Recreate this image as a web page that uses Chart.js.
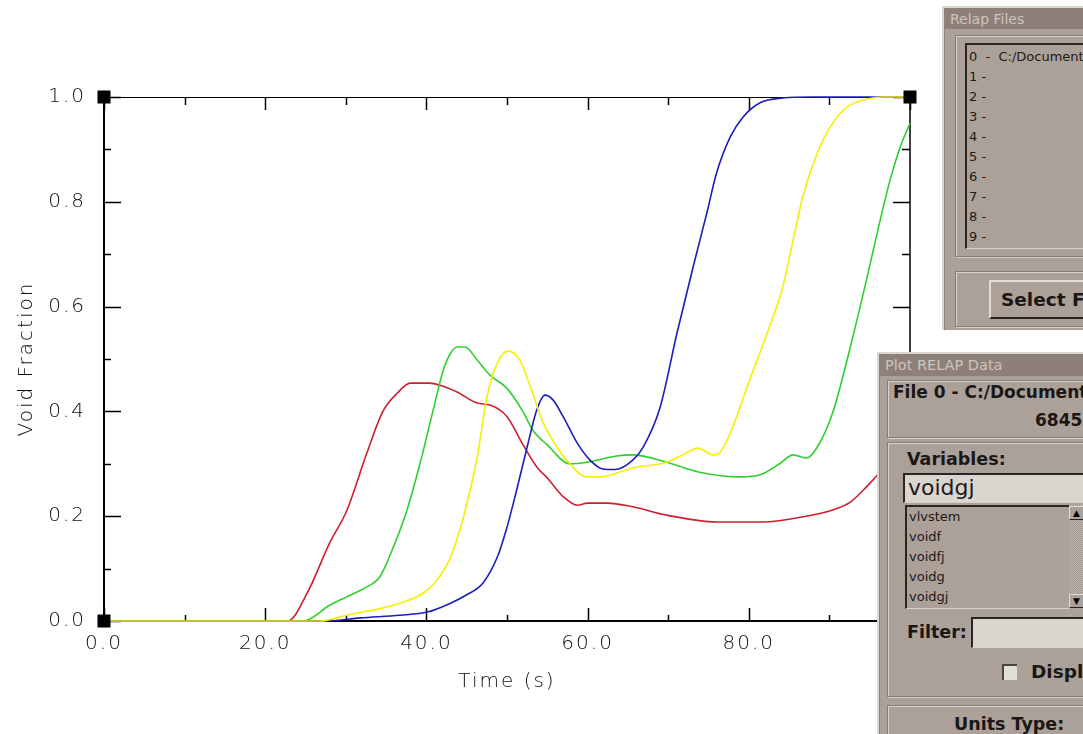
<!DOCTYPE html>
<html>
<head>
<meta charset="utf-8">
<script src="https://cdn.jsdelivr.net/npm/chart.js@4.4.1/dist/chart.umd.min.js"></script>
<style>
  html, body { margin: 0; padding: 0; background: #fff; }
  body { position: relative; width: 1083px; height: 734px; overflow: hidden; font-family: "DejaVu Sans", Verdana, sans-serif; }
  #plot { position: absolute; left: 0; top: 0; display: block; }
  .abs { position: absolute; box-sizing: border-box; white-space: nowrap; }
  .win { background: #aba198; border-left: 2px solid #ddd6cf; border-top: 2px solid #ddd6cf; box-shadow: inset 1px 1px 0 #8c827a; }
  .title { background: #8d807a; color: #cdc4bc; font-size: 14px; line-height: 20px; padding-left: 5px; }
  .frame { border: 1px solid #867c74; box-shadow: 1px 1px 0 #d9d2cb, inset 1px 1px 0 #d9d2cb; }
  .sunk { border-top: 2px solid #2a2624; border-left: 2px solid #2a2624; border-bottom: 1px solid #d8d1ca; }
  .item { font-size: 13px; color: #1d1a18; line-height: 20px; }
  .bold { font-weight: bold; color: #1a1716; }
  .field { background: #dbd5cf; }
</style>
</head>
<body>
<canvas id="plot" width="1083" height="734"></canvas>

<!-- Relap Files window -->
<div class="abs win" style="left:942px;top:6px;width:160px;height:324px;"></div>
<div class="abs title" style="left:945px;top:9px;width:150px;height:20px;">Relap Files</div>
<div class="abs frame" style="left:955px;top:35px;width:140px;height:222px;"></div>
<div class="abs sunk" style="left:965px;top:43px;width:130px;height:206px;"></div>
<div id="fileList" class="abs" style="left:969px;top:47px;"></div>
<div class="abs frame" style="left:955px;top:271px;width:140px;height:56px;"></div>
<div class="abs bold" style="left:989px;top:280px;width:120px;height:39px;border-top:2px solid #e2dcd6;border-left:2px solid #e2dcd6;border-bottom:2px solid #2a2220;font-size:18.5px;line-height:35px;padding-left:10px;">Select File</div>

<!-- Plot RELAP Data window -->
<div class="abs win" style="left:877px;top:352px;width:220px;height:400px;"></div>
<div class="abs title" style="left:880px;top:355px;width:210px;height:21px;line-height:21px;font-size:14.5px;">Plot RELAP Data</div>
<div class="abs frame" style="left:887px;top:380px;width:210px;height:58px;"></div>
<div class="abs bold" style="left:893px;top:382px;font-size:17px;line-height:21px;">File 0 - C:/Documents and Settings</div>
<div class="abs bold" style="left:1035px;top:410px;font-size:17px;line-height:21px;">6845</div>
<div class="abs frame" style="left:887px;top:442px;width:210px;height:255px;"></div>
<div class="abs bold" style="left:907px;top:448px;font-size:17.5px;line-height:22px;">Variables:</div>
<div class="abs sunk field" style="left:903px;top:473px;width:190px;height:30px;font-size:22px;line-height:26px;padding-left:3px;color:#1d1a18;">voidgj</div>
<div class="abs sunk" style="left:905px;top:505px;width:164px;height:104px;"></div>
<div id="varList" class="abs" style="left:909px;top:507px;"></div>
<div class="abs" style="left:1069px;top:505px;width:20px;height:104px;background:repeating-conic-gradient(#bdb5ad 0 25%, #a39990 0 50%) 0 0/2px 2px;"></div>
<div class="abs" style="left:1069px;top:506px;width:20px;height:14px;background:#aba198;border-top:1px solid #e2dcd6;border-left:1px solid #e2dcd6;border-bottom:1px solid #2a2220;font-size:9px;line-height:12px;padding-left:3px;">&#9650;</div>
<div class="abs" style="left:1069px;top:594px;width:20px;height:14px;background:#aba198;border-top:1px solid #e2dcd6;border-left:1px solid #e2dcd6;border-bottom:1px solid #2a2220;font-size:9px;line-height:12px;padding-left:3px;">&#9660;</div>
<div class="abs bold" style="left:907px;top:621px;font-size:17.5px;line-height:22px;">Filter:</div>
<div class="abs sunk field" style="left:971px;top:617px;width:120px;height:31px;"></div>
<div class="abs" style="left:1002px;top:664px;width:15px;height:16px;background:#e2deda;border-top:2px solid #4a4440;border-left:2px solid #4a4440;"></div>
<div class="abs bold" style="left:1031px;top:661px;font-size:18.5px;line-height:22px;">Display</div>
<div class="abs frame" style="left:887px;top:705px;width:210px;height:60px;"></div>
<div class="abs bold" style="left:954px;top:713px;font-size:17.5px;line-height:22px;">Units Type:</div>

<script>
// time in s, void fraction, one pair of arrays per curve
const redT = [0, 22.8, 25.2, 28, 30.1, 32.6, 34.6, 36.4, 38, 40.4, 41.7, 43.8, 46.3, 47.9, 50, 52, 53.7, 55, 57, 58.7, 60, 62.4, 65.6, 69.8, 76, 81.8, 86.4, 90.4, 92.6, 94.6, 96, 98, 100];
const redV = [0, 0, 0.053, 0.149, 0.21, 0.32, 0.40, 0.435, 0.454, 0.454, 0.45, 0.437, 0.416, 0.412, 0.39, 0.336, 0.294, 0.273, 0.237, 0.221, 0.225, 0.225, 0.218, 0.202, 0.189, 0.189, 0.198, 0.212, 0.227, 0.256, 0.279, 0.31, 0.34];

const greenT = [0, 24.7, 28, 30.1, 32.6, 34.2, 35.9, 37.6, 39.2, 40.8, 42.1, 43, 43.8, 44.8, 46.3, 47.9, 50, 52, 53.2, 55, 57.8, 59.9, 63.6, 65.6, 69.8, 73.9, 78.9, 81.4, 83.9, 85.5, 87.2, 88.5, 90.4, 92.6, 94.6, 96.3, 97.5, 98.8, 100];
const greenV = [0, 0, 0.03, 0.046, 0.065, 0.084, 0.141, 0.212, 0.30, 0.40, 0.479, 0.511, 0.523, 0.523, 0.498, 0.469, 0.444, 0.399, 0.364, 0.336, 0.30, 0.303, 0.315, 0.317, 0.303, 0.284, 0.275, 0.279, 0.301, 0.317, 0.311, 0.332, 0.397, 0.523, 0.651, 0.765, 0.84, 0.905, 0.95];

const blueT = [0, 27.7, 31.8, 36.7, 40.1, 43, 45, 47, 48.8, 50, 51.2, 52.5, 53.7, 54.7, 55.7, 57, 58.7, 60.3, 61.9, 63.4, 65.6, 66.9, 69, 71.1, 73.1, 74.8, 76, 77.7, 79.3, 81.4, 84.2, 88, 100];
const blueV = [0, 0, 0.006, 0.011, 0.017, 0.034, 0.05, 0.072, 0.122, 0.179, 0.25, 0.332, 0.403, 0.431, 0.422, 0.389, 0.34, 0.307, 0.29, 0.289, 0.307, 0.332, 0.408, 0.55, 0.676, 0.779, 0.855, 0.924, 0.962, 0.989, 0.998, 1.0, 1.0];

const yellowT = [0, 26.8, 30.1, 34.6, 37.1, 39.6, 41.3, 43, 44.6, 46.3, 47.5, 48.8, 50.1, 51.6, 52.9, 54.5, 56.2, 57.4, 59.9, 61.5, 65.6, 69.8, 71.8, 73.7, 75.6, 76.4, 78, 80.1, 82.3, 84.2, 85.5, 86.7, 88.5, 90.1, 92.2, 94.7, 96.7, 100];
const yellowV = [0, 0, 0.011, 0.025, 0.036, 0.053, 0.078, 0.122, 0.198, 0.313, 0.427, 0.492, 0.515, 0.498, 0.447, 0.378, 0.332, 0.307, 0.275, 0.275, 0.292, 0.303, 0.317, 0.33, 0.317, 0.321, 0.37, 0.46, 0.55, 0.637, 0.727, 0.81, 0.893, 0.943, 0.981, 0.996, 1.0, 1.0];

const xMajor = [0, 20, 40, 60, 80, 100];
const xMinor = [10, 30, 50, 70, 90];
const yMajor = [0, 0.2, 0.4, 0.6, 0.8, 1.0];
const yMinor = [0.1, 0.3, 0.5, 0.7, 0.9];

const fileItems = ['0  -  C:/Documents and Settings', '1 -', '2 -', '3 -', '4 -', '5 -', '6 -', '7 -', '8 -', '9 -'];
const varItems = ['vlvstem', 'voidf', 'voidfj', 'voidg', 'voidgj'];

document.getElementById('fileList').innerHTML = fileItems.map((s) => `<div class="item">${s.replace(/ /g, '&nbsp;')}</div>`).join('');
document.getElementById('varList').innerHTML = varItems.map((s) => `<div class="item">${s}</div>`).join('');

function pts(t, v) {
  return t.map((x, i) => ({ x, y: v[i] }));
}

const axisFont = { family: 'DejaVu Sans', size: 20, weight: 300 };
const textColor = '#111';

// inward tick marks, top/right frame and the corner squares
const frameTicks = {
  id: 'frameTicks',
  beforeDraw(chart) {
    chart.ctx.letterSpacing = '2px';
  },
  beforeDatasetsDraw(chart) {
    const { ctx, chartArea: a, scales: { x, y } } = chart;
    ctx.save();
    ctx.strokeStyle = '#000';
    ctx.lineWidth = 1;
    ctx.beginPath();
    ctx.moveTo(a.left, a.top + 0.5);
    ctx.lineTo(a.right, a.top + 0.5);
    ctx.stroke();
    ctx.lineWidth = 1.5;
    ctx.beginPath();
    ctx.moveTo(a.right, a.top);
    ctx.lineTo(a.right, a.bottom);
    ctx.stroke();

    ctx.beginPath();
    const xt = (vals, bot, top) => vals.forEach((v) => {
      const px = Math.round(x.getPixelForValue(v)) + 0.5;
      ctx.moveTo(px, a.bottom); ctx.lineTo(px, a.bottom - bot);
      ctx.moveTo(px, a.top); ctx.lineTo(px, a.top + top);
    });
    const yt = (vals, left, right) => vals.forEach((v) => {
      const py = Math.round(y.getPixelForValue(v)) + 0.5;
      ctx.moveTo(a.left, py); ctx.lineTo(a.left + left, py);
      ctx.moveTo(a.right, py); ctx.lineTo(a.right - right, py);
    });
    xt(xMajor, 13, 13);
    xt(xMinor, 6, 8);
    yt(yMajor, 17, 17);
    yt(yMinor, 7, 8);
    ctx.stroke();
    ctx.restore();
  },
  afterDatasetsDraw(chart) {
    const { ctx, scales: { x, y } } = chart;
    ctx.save();
    ctx.fillStyle = '#000';
    [[0, 0], [0, 1], [100, 1], [100, 0]].forEach(([tx, vy]) => {
      const px = x.getPixelForValue(tx);
      const py = y.getPixelForValue(vy);
      ctx.fillRect(px - 6.5, py - 6.5, 13, 13);
    });
    ctx.restore();
  },
};

const line = (data, color) => ({
  data,
  borderColor: color,
  borderWidth: 1.6,
  pointRadius: 0,
  cubicInterpolationMode: 'monotone',
  fill: false,
  clip: 4,
});

// chart.js paints dataset 0 on top, so yellow goes first
new Chart(document.getElementById('plot'), {
  type: 'line',
  data: {
    datasets: [
      line(pts(yellowT, yellowV), '#f4f000'),
      line(pts(blueT, blueV), '#1c1cc0'),
      line(pts(greenT, greenV), '#2ed02e'),
      line(pts(redT, redV), '#cc2030'),
    ],
  },
  options: {
    responsive: false,
    animation: false,
    layout: { padding: { top: 97, right: 173, left: 0, bottom: 0 } },
    plugins: { legend: { display: false }, tooltip: { enabled: false } },
    scales: {
      x: {
        type: 'linear',
        min: 0,
        max: 100,
        afterFit: (s) => { s.height = 113; },
        afterBuildTicks: (s) => { s.ticks = xMajor.map((value) => ({ value })); },
        ticks: { callback: (v) => v.toFixed(1), font: axisFont, color: textColor, padding: 11, maxRotation: 0, autoSkip: false },
        grid: { display: true, drawOnChartArea: false, drawTicks: false },
        border: { color: '#000', width: 2 },
        title: { display: true, text: 'Time (s)', font: axisFont, color: textColor, padding: { top: 0, bottom: 40 } },
      },
      y: {
        min: 0,
        max: 1,
        afterFit: (s) => { s.width = 104; },
        afterBuildTicks: (s) => { s.ticks = yMajor.map((value) => ({ value })); },
        ticks: { callback: (v) => v.toFixed(1), font: axisFont, color: textColor, padding: 18, autoSkip: false },
        grid: { display: true, drawOnChartArea: false, drawTicks: false },
        border: { color: '#000', width: 2 },
        title: { display: true, text: 'Void Fraction', font: axisFont, color: textColor, padding: { top: 15, bottom: 0 } },
      },
    },
  },
  plugins: [frameTicks],
});
</script>
</body>
</html>
